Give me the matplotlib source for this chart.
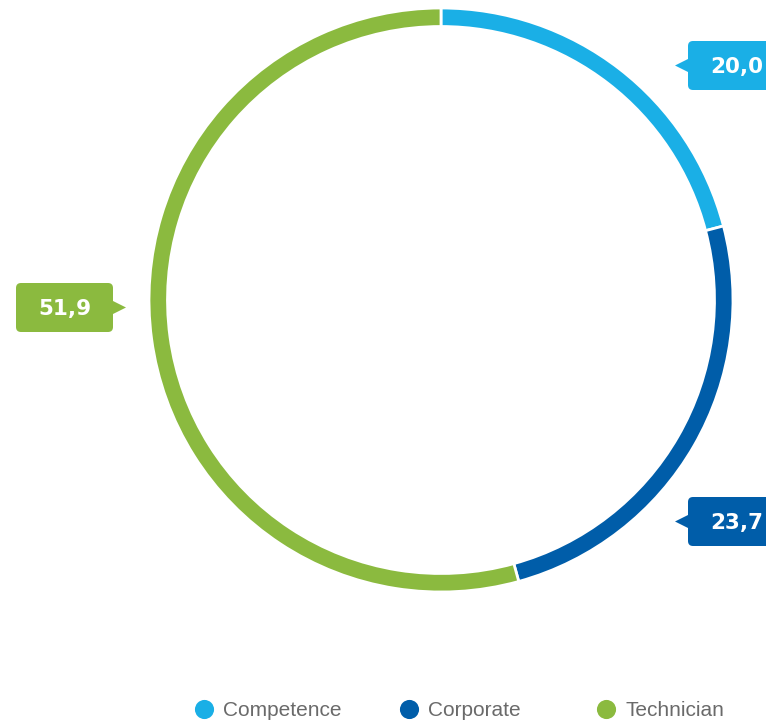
import matplotlib
matplotlib.use("Agg")
import matplotlib.pyplot as plt
from matplotlib.patches import FancyBboxPatch, Polygon

categories = ["Competence", "Corporate", "Technician"]
values = [20.0, 23.7, 51.9]
labels = ["20,0", "23,7", "51,9"]
colors = ["#1AAFE6", "#005DA9", "#8BBA3F"]

W, H = 766, 723
fig = plt.figure(figsize=(W / 100, H / 100), dpi=100)
ax = fig.add_axes([0, 0, 1, 1])

cx, cy, R, ring = 441, H - 300, 292, 18.5
ax.pie(values, colors=colors, radius=R, center=(cx, cy), startangle=90,
       counterclock=False,
       wedgeprops=dict(width=ring, edgecolor="white", linewidth=2.0),
       frame=True)
ax.set_xlim(0, W)
ax.set_ylim(0, H)
ax.set_aspect("equal")
ax.axis("off")

# callout boxes: (box left, box top (px from top), pointer side)
callouts = [(688, 41, "left"), (688, 497, "left"), (16, 283, "right")]
bw, bh, ptr = 97, 49, 13
for (bx, bt, side), lab, col in zip(callouts, labels, colors):
    by = H - bt - bh
    box = FancyBboxPatch((bx, by), bw, bh,
                         boxstyle="round,pad=0,rounding_size=5",
                         fc=col, ec="none", zorder=5)
    ax.add_patch(box)
    ymid = by + bh / 2
    if side == "left":
        tri = [(bx + 1, ymid + 7), (bx + 1, ymid - 7), (bx - ptr, ymid)]
    else:
        tri = [(bx + bw - 1, ymid + 7), (bx + bw - 1, ymid - 7), (bx + bw + ptr, ymid)]
    ax.add_patch(Polygon(tri, closed=True, fc=col, ec="none", zorder=5))
    ax.text(bx + bw / 2, ymid, lab, color="white", fontsize=15.5,
            fontweight="bold", family="DejaVu Sans",
            ha="center", va="center_baseline", zorder=6)

# legend
leg_x = [204, 409, 606]
leg_y = H - 709
for x, cat, col in zip(leg_x, categories, colors):
    ax.scatter([x], [leg_y], s=190, color=col, zorder=5, linewidths=0)
    ax.text(x + 19, leg_y, cat, color="#6a6a6a", fontsize=15,
            family="Liberation Sans", ha="left", va="center_baseline")

fig.savefig("out.png", dpi=100, facecolor="white")
